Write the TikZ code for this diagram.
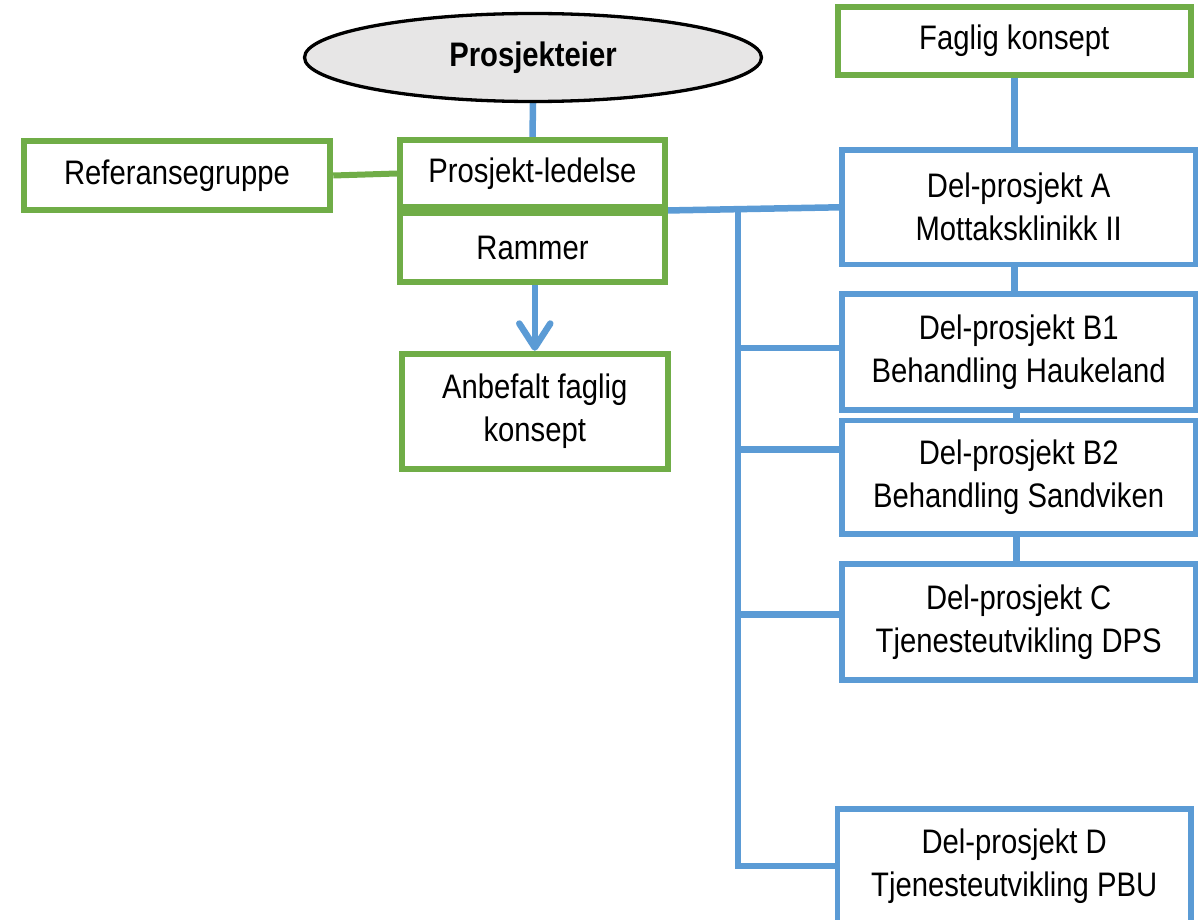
\documentclass[tikz,border=0pt]{standalone}
\usepackage{fontspec}
\setmainfont{Liberation Sans}[FakeStretch=0.86]
\usepackage{tikz}
\usetikzlibrary{shapes.geometric}
\usetikzlibrary{arrows.meta}
\usetikzlibrary{calc}
\usetikzlibrary{backgrounds}
\definecolor{eiergray}{HTML}{E7E6E6}
\definecolor{faggreen}{HTML}{70AD47}
\definecolor{delblue}{HTML}{5B9BD5}

\begin{document}
\begin{tikzpicture}[x=1pt,y=-1pt,
    every node/.style={font=\fontsize{34}{43}\selectfont, align=center, inner sep=0pt},
    greenbox/.style={rectangle, draw=faggreen, line width=6pt, fill=white},
    bluebox/.style={rectangle, draw=delblue, line width=5.5pt, fill=white,
      minimum width=353.5pt},
    link/.style={draw=delblue, line width=6.5pt}]
  \useasboundingbox (0,0) rectangle (1202,920);

  % left column
  \node[ellipse, draw, line width=3.3pt, fill=eiergray,
    minimum width=457pt, minimum height=88pt] (eier) at (533,57.5) {\textbf{Prosjekteier}};
  \node[greenbox, minimum width=265pt, minimum height=67pt] (led) at (532.5,173.5) {Prosjekt-ledelse};
  \node[greenbox, minimum width=265pt, minimum height=69pt] (ram) at (532.5,247.5) {Rammer};
  \node[greenbox, minimum width=306.5pt, minimum height=68.5pt] (ref) at (177,175.5) {Referansegruppe};
  \node[greenbox, minimum width=266.5pt, minimum height=115pt] (anb) at (534.8,411.3) {Anbefalt faglig\\konsept};

  % right column
  \node[greenbox, minimum width=352.5pt, minimum height=68pt] (fk) at (1014.3,40.6) {Faglig konsept};
  \node[bluebox, minimum height=114.7pt] (dpA) at (1018.7,207.3) {Del-prosjekt A\\Mottaksklinikk II};
  \node[bluebox, minimum height=116pt] (dpB1) at (1018.7,352) {Del-prosjekt B1\\Behandling Haukeland};
  \node[bluebox, minimum height=113.3pt] (dpB2) at (1018.7,477.2) {Del-prosjekt B2\\Behandling Sandviken};
  \node[bluebox, minimum height=116pt] (dpC) at (1018.7,622) {Del-prosjekt C\\Tjenesteutvikling DPS};
  \node[bluebox, minimum height=114pt] (dpD) at (1014.2,866) {Del-prosjekt D\\Tjenesteutvikling PBU};

  \coordinate (top) at (738,208);
  \coordinate (b1) at (738,348);
  \coordinate (b2) at (738,449.5);
  \coordinate (b3) at (738,614.5);

  \begin{pgfonlayer}{background}
    \draw[link] (eier.south) -- (led.north);
    \draw[draw=faggreen, line width=6pt] (ref.east) -- (led.west);
    \draw[link] ($(led.south)+(-56,4)$) -- (dpA.west);
    \draw[link] (fk.south) -- (fk.south |- dpA.north);
    \draw[link] (dpA.south -| fk.south) -- (dpB1.north -| fk.south);
    \draw[link] ([xshift=-2]dpB1.south) -- ([xshift=-2]dpB2.north);
    \draw[link] ([xshift=-2]dpB2.south) -- ([xshift=-2]dpC.north);
    \draw[link] (top) |- (dpD.west);
    \draw[link] (b1) -- (b1 -| dpB1.west);
    \draw[link] (b2) -- (b2 -| dpB2.west);
    \draw[link] (b3) -- (b3 -| dpC.west);
  \end{pgfonlayer}
  \draw[link, -{Straight Barb[length=24pt,width=31pt,round]}] (anb.north |- ram.south) -- (anb.north);
\end{tikzpicture}
\end{document}
